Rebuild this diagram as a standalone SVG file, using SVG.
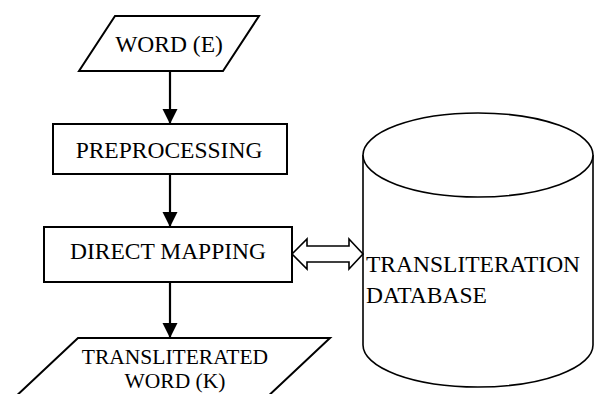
<svg xmlns="http://www.w3.org/2000/svg" width="595" height="394" viewBox="0 0 595 394">
<style>
.s{fill:#fff;stroke:#000;stroke-width:2}
.c{fill:#fff;stroke:#000;stroke-width:1.6}
.t{font-family:"Liberation Serif","Times New Roman",serif;font-size:23.5px;fill:#000}
.sm{font-size:21.5px}
.m{text-anchor:middle}
.ln{stroke:#000;stroke-width:2.2;fill:none}
</style>
<defs>
<marker id="ah" markerUnits="userSpaceOnUse" markerWidth="16" markerHeight="16" viewBox="0 0 16 16" refX="15" refY="8" orient="auto">
<path d="M0,0.5 L15,8 L0,15.5 Z" fill="#000"/>
</marker>
</defs>
<g id="word-e">
<polygon class="s" points="115,16 259,16 223,71 79,71"/>
<text class="t m" x="169" y="52">WORD (E)</text>
</g>
<g id="preprocessing">
<rect class="s" x="53" y="124" width="234" height="50"/>
<text class="t m" x="169" y="158">PREPROCESSING</text>
</g>
<g id="direct-mapping">
<rect class="s" x="44" y="227" width="248" height="55"/>
<text class="t m" x="168" y="259">DIRECT MAPPING</text>
</g>
<g id="transliterated-word">
<polygon class="s" points="78,338 330,338 264,400 12,400"/>
<text class="t sm m" x="175" y="364">TRANSLITERATED</text>
<text class="t sm m" x="175" y="388">WORD (K)</text>
</g>
<g id="database">
<path class="c" d="M363,155 L363,345 A115,42 0 0 0 593,345 L593,155"/>
<ellipse class="c" cx="478" cy="155" rx="115" ry="42"/>
<text class="t" x="366" y="272">TRANSLITERATION</text>
<text class="t" x="366" y="303">DATABASE</text>
</g>
<g id="connectors">
<line class="ln" x1="170" y1="71" x2="170" y2="124" marker-end="url(#ah)"/>
<line class="ln" x1="170" y1="174" x2="170" y2="227" marker-end="url(#ah)"/>
<line class="ln" x1="170" y1="282" x2="170" y2="338" marker-end="url(#ah)"/>
<polygon class="c" points="292,254 307,239 307,246 349,246 349,239 363,254 349,269 349,262 307,262 307,269"/>
</g>
</svg>
